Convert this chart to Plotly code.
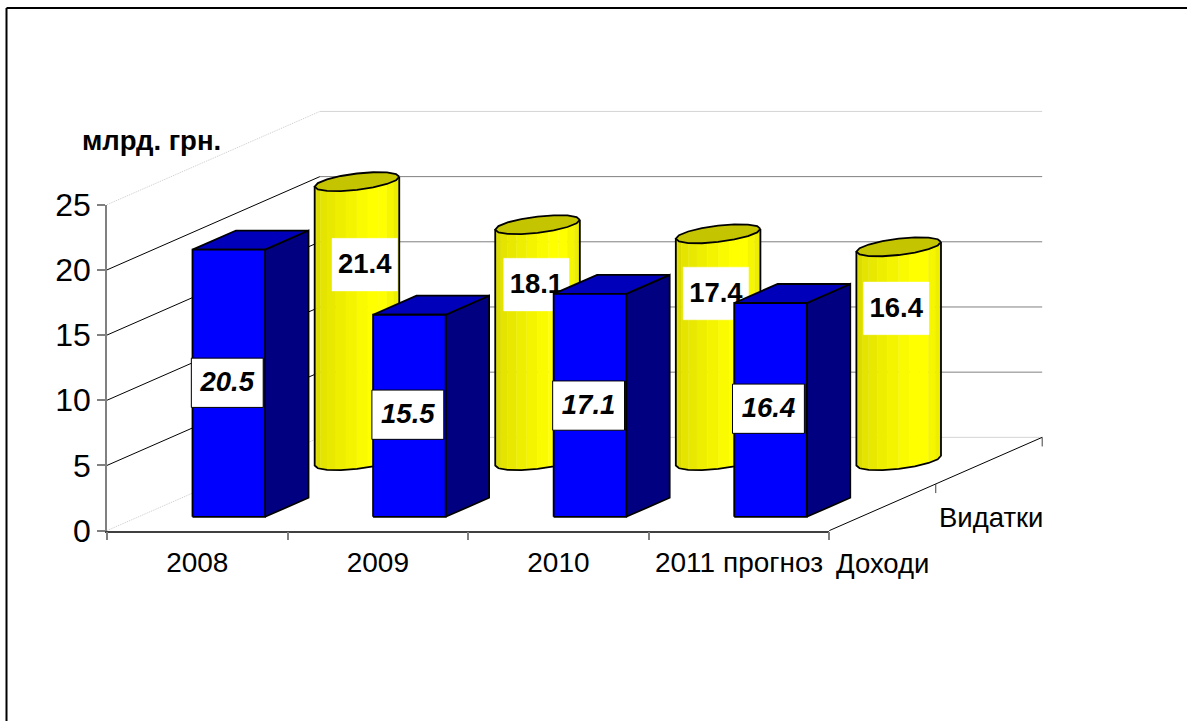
import numpy as np
import plotly.graph_objects as go

# ---------- data ----------
categories = ["2008", "2009", "2010", "2011 прогноз"]
income = [20.5, 15.5, 17.1, 16.4]      # Доходи (front row, blue)
spending = [21.4, 18.1, 17.4, 16.4]    # Видатки (rear row, yellow)
row_names = ["Доходи", "Видатки"]
y_ticks = [0, 5, 10, 15, 20, 25]

# ---------- oblique projection, in axis units ----------
DEPTH_X = 1.179     # category units gained from front to rear
DEPTH_Y = 7.155     # value units gained from front to rear
ROW_DEPTH = [0.25, 0.75]
HALF_W = 0.201
HALF_D = 0.102
FONT = "Liberation Sans"
W, H = 1187, 721
PX_L, PX_R, PX_B, PX_T = 107, 829.3, 530.6, 204.7  # frame of the front plane
L, R = -0.5, 3.5
X_UNIT = (PX_R - PX_L) / (R - L)
Y_UNIT = (PX_B - PX_T) / 25

# hand-placed data label centres (category units, value units)
income_label_x = [0.166, 1.166, 2.167, 3.163]
income_label_y = [11.34, 8.89, 9.59, 9.35]
spending_label_x = [0.927, 1.878, 2.872, 3.871]
spending_label_y = [20.4, 18.87, 18.19, 17.05]

STRIP_COLORS = ["#d4d400", "#dcdc00", "#e4e400", "#e8e800", "#eeee00", "#f4f400",
                "#fafa00", "#ffff00", "#ffff00", "#f6f600", "#eeee00", "#e6e600"]


def proj(cat, val, depth):
    return cat + depth * DEPTH_X, val + depth * DEPTH_Y


fig = go.Figure()
# keeps the visible axes' subplot alive
fig.add_trace(go.Scatter(x=[0], y=[0], mode="markers", marker=dict(opacity=0),
                         hoverinfo="skip", showlegend=False))


def poly(xs, ys, fill=None, line=None, width=1.0, dash=None):
    kw = dict(x=list(xs), y=list(ys), mode="lines", xaxis="x2", yaxis="y2",
              hoverinfo="skip", showlegend=False)
    if fill:
        kw.update(fill="toself", fillcolor=fill)
    if line:
        kw["line"] = dict(color=line, width=width, dash=dash or "solid")
    else:
        kw["line"] = dict(color=fill, width=0.4)
    fig.add_trace(go.Scatter(**kw))


def seg(p, q, color, width=1.0, dash=None):
    poly([p[0], q[0]], [p[1], q[1]], line=color, width=width, dash=dash)


def box_text(cx, cy, hw, hh, text, italic=False, border=None):
    poly([cx - hw, cx + hw, cx + hw, cx - hw, cx - hw],
         [cy - hh, cy - hh, cy + hh, cy + hh, cy - hh], fill="#ffffff",
         line=border, width=1.0)
    fig.add_trace(go.Scatter(
        x=[cx], y=[cy - 0.1], mode="text", text=[text], textposition="middle center",
        xaxis="x2", yaxis="y2",
        textfont=dict(family=FONT, size=27.5, color="#000000",
                      weight="bold", style="italic" if italic else "normal"),
        hoverinfo="skip", showlegend=False))


# ---------- walls and floor ----------
for v in y_ticks:
    edge = v in (0, 25)
    diag = "#cccccc" if edge else "#000000"
    back = "#d4d4d4" if edge else "#808080"
    seg(proj(L, v, 0), proj(L, v, 1), diag, 1.0, "1px,1px" if edge else None)
    seg(proj(L, v, 1), proj(R, v, 1), back, 1.0)
seg(proj(R, 0, 0), proj(R, 0, 1), "#000000", 1.0)

# ---------- rear row: cylinders ----------
ang0 = np.arctan2(HALF_D * DEPTH_X, HALF_W)
ts = ang0 + np.pi + np.linspace(0, np.pi, len(STRIP_COLORS) + 1)
ring = ang0 + np.linspace(0, 2 * np.pi, 17)


def ell(i, val, t):
    return proj(i + HALF_W * np.cos(t), val, ROW_DEPTH[1] + HALF_D * np.sin(t))


for i, val in enumerate(spending):
    for k, col in enumerate(STRIP_COLORS):
        tt = np.array([ts[k], ts[k + 1]])
        bx, by = ell(i, 0, tt)
        tx, ty = ell(i, val, tt[::-1])
        poly(np.r_[bx, tx, bx[0]], np.r_[by, ty, by[0]], fill=col)
    rx, ry = ell(i, val, ring)
    poly(rx, ry, fill="#c4c400", line="#000000", width=1.8)
    arc = np.linspace(ts[0], ts[-1], 9)
    ax, ay = ell(i, 0, arc)
    lx, ly = ell(i, val, np.array([ts[0]]))
    ex, ey = ell(i, val, np.array([ts[-1]]))
    poly(np.r_[lx, ax, ex], np.r_[ly, ay, ey], line="#000000", width=1.8)
    box_text(spending_label_x[i], spending_label_y[i], 0.181, 2.02, f"{val:.1f}")

# ---------- front row: boxes ----------
d0 = ROW_DEPTH[0] - HALF_D
d1 = ROW_DEPTH[0] + HALF_D
for i, val in enumerate(income):
    xl, xr = i - HALF_W, i + HALF_W
    a = proj(xl, 0, d0); b = proj(xr, 0, d0)
    c = proj(xr, val, d0); d = proj(xl, val, d0)
    e = proj(xr, 0, d1); f = proj(xr, val, d1); g = proj(xl, val, d1)
    for pts, col in (((b, e, f, c, b), "#000080"),
                     ((d, c, f, g, d), "#0000bb"),
                     ((a, b, c, d, a), "#0000ff")):
        poly([p[0] for p in pts], [p[1] for p in pts], fill=col, line="#000000", width=1.8)
    box_text(income_label_x[i], income_label_y[i], 0.199, 1.89, f"{val:.1f}",
             italic=True, border="#000000")

# ---------- depth axis ticks ----------
for dep in (0.5, 1):
    p = proj(R, 0, dep)
    seg(p, (p[0], p[1] - 0.7), "#404040", 1.0)

# ---------- frame, drawn on the full-page axes ----------
x2_range = [L - PX_L / X_UNIT, L + (W - PX_L) / X_UNIT]
y2_range = [(PX_B - H) / Y_UNIT, PX_B / Y_UNIT]
frame_x = L + (6.5 - PX_L) / X_UNIT
frame_y = (PX_B - 8) / Y_UNIT
poly([frame_x, frame_x], [y2_range[0], frame_y], line="#000000", width=2)
poly([frame_x, x2_range[1]], [frame_y, frame_y], line="#000000", width=2)

annotations = [
    dict(x=L + (151.5 - PX_L) / X_UNIT, y=(PX_B - 140) / Y_UNIT, xref="x2", yref="y2",
         xanchor="center", yanchor="middle", text="<b>млрд. грн.</b>",
         showarrow=False, font=dict(family=FONT, size=27.5, color="#000000")),
    dict(x=3.797, y=-2.56, xref="x2", yref="y2", xanchor="center", yanchor="middle",
         text=row_names[0], showarrow=False,
         font=dict(family=FONT, size=27.5, color="#000000")),
    dict(x=4.397, y=1.04, xref="x2", yref="y2", xanchor="center", yanchor="middle",
         text=row_names[1], showarrow=False,
         font=dict(family=FONT, size=27.5, color="#000000")),
]

fig.update_layout(
    width=W, height=H,
    margin=dict(l=0, r=0, t=0, b=0, autoexpand=False),
    paper_bgcolor="#ffffff", plot_bgcolor="rgba(0,0,0,0)",
    showlegend=False, annotations=annotations,
    xaxis=dict(
        domain=[PX_L / W, PX_R / W], anchor="y",
        range=[L, R], tickmode="array", tickvals=list(range(4)), ticktext=categories,
        ticks="", showgrid=False, zeroline=False, showline=True, linecolor="#404040",
        linewidth=1.5, ticklabelstandoff=6,
        tickfont=dict(family=FONT, size=28, color="#000000"),
        minor=dict(tickmode="array", tickvals=[-0.5, 0.5, 1.5, 2.5, 3.5], ticks="outside",
                   ticklen=8, tickcolor="#808080", tickwidth=1.5, showgrid=False),
    ),
    yaxis=dict(
        domain=[1 - PX_B / H, 1 - PX_T / H], anchor="x",
        range=[0, 25], tickmode="array", tickvals=y_ticks, ticks="outside", ticklen=8,
        tickcolor="#808080", tickwidth=1.5, showgrid=False, zeroline=False, showline=True,
        linecolor="#808080", linewidth=1.5,
        tickfont=dict(family=FONT, size=32, color="#000000"),
    ),
    xaxis2=dict(domain=[0, 1], range=x2_range, anchor="y2", visible=False),
    yaxis2=dict(domain=[0, 1], range=y2_range, anchor="x2", visible=False),
)

fig.write_html("out.html", config=dict(displayModeBar=False),
               post_script="document.body.style.margin='0';document.body.style.overflow='hidden';")
